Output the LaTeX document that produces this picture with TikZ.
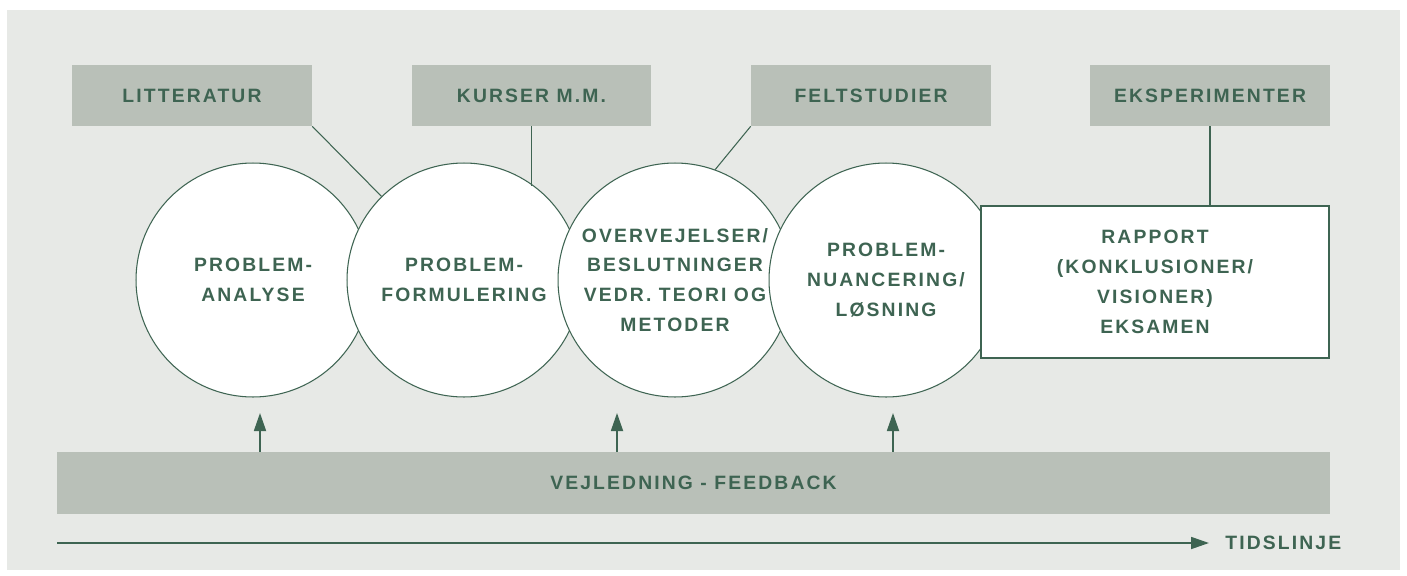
\documentclass[tikz,border=0pt]{standalone}
\usepackage{fontspec}
\usepackage{tikz}
\usetikzlibrary{arrows.meta}
\newfontfamily\lblfont[LetterSpace=11]{Liberation Sans}
\definecolor{dkgreen}{HTML}{3E6452}
\definecolor{boxgray}{HTML}{B9C0B8}
\definecolor{bggray}{HTML}{E7E9E6}

\begin{document}
\begin{tikzpicture} [x=0.02cm, y=-0.02cm,
    every node/.style = {font=\lblfont\bfseries\fontsize{11}{17}\selectfont,
    text=dkgreen,
    align=center},
    source/.style = {fill=boxgray,
    minimum width = 4.8cm,
    minimum height = 1.22cm},
    phase/.style = {draw=dkgreen,
    circle,
    line width = 0.6pt,
    fill=white,
    minimum size = 4.68cm,
    inner sep = 0pt},
    link/.style = {draw=dkgreen, line width = 0.6pt},
    fb/.style = {draw=dkgreen, line width = 1pt,
    -{Triangle[length=0.36cm, width=0.24cm]}}]

\fill[white] (0,0) rectangle (1407,575);
\fill[bggray] (7,10) rectangle (1400,570);

% kilder
\node (lit) at (192,95.5) [source] {LITTERATUR};
\node (kurs) at (531.5,95.5) [source] {KURSER M.M.};
\node (felt) at (871,95.5) [source] {FELTSTUDIER};
\node (eksp) at (1210,95.5) [source] {EKSPERIMENTER};

% faser
\node (c1) at (253,280) [phase] {PROBLEM-\\ANALYSE};
\node (c2) at (464,280) [phase] {PROBLEM-\\FORMULERING};
\node (c3) at (675,280) [phase] {OVERVEJELSER/\\BESLUTNINGER\\VEDR. TEORI OG\\METODER};
\node (c4) at (886,280) [phase] {PROBLEM-\\NUANCERING/\\LØSNING};
\node (rap) at (1155,282) [draw=dkgreen, line width = 0.8pt, fill=white,
    minimum width = 6.96cm, minimum height = 3.04cm]
    {RAPPORT\\(KONKLUSIONER/\\VISIONER)\\EKSAMEN};

\draw[link] (lit.south east) -- (c2);
\draw[link] (kurs.south) -- (kurs.south |- c2.53);
\draw[link] (felt.south west) -- (c3.70);
\draw[link] (eksp.south) -- (eksp.south |- rap.north);

% vejledning
\node (vej) at (693.5,483) [fill=boxgray, minimum width = 25.46cm,
    minimum height = 1.24cm] {VEJLEDNING - FEEDBACK};
\coordinate (a1) at (260,413);
\coordinate (a2) at (617,413);
\coordinate (a3) at (893,413);
\draw[fb] (vej.north -| a1) -- (a1);
\draw[fb] (vej.north -| a2) -- (a2);
\draw[fb] (vej.north -| a3) -- (a3);

% tidslinje
\coordinate (t0) at (57,543);
\node (tid) at (1225,543) [anchor=west, inner sep = 0pt] {TIDSLINJE};
\draw[fb] (t0) -- ([xshift=-0.32cm]tid.west);

\end{tikzpicture}
\end{document}
